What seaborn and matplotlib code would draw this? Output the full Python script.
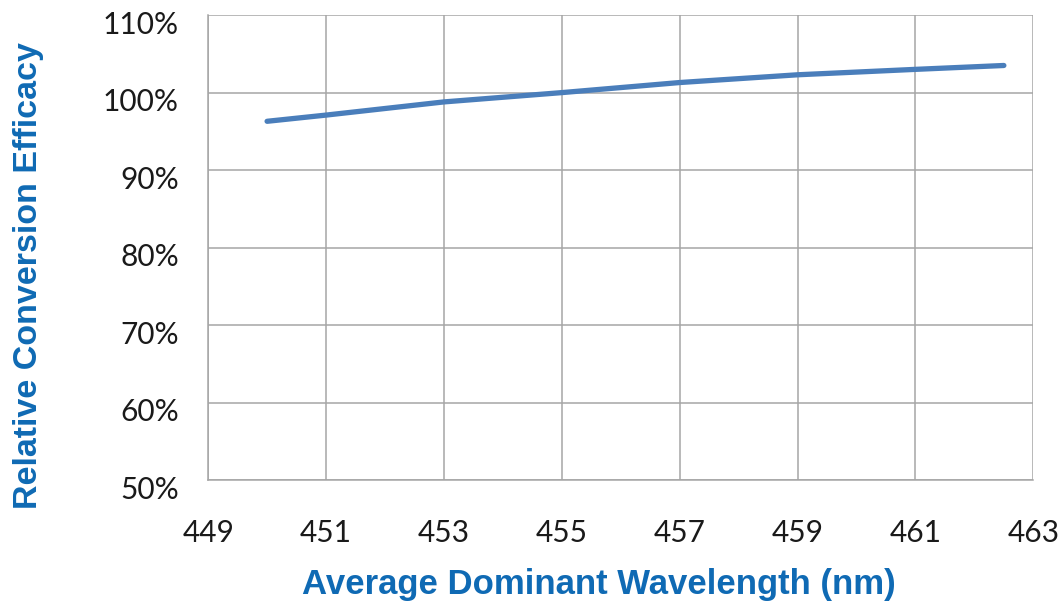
import numpy as np
import pandas as pd
import matplotlib
matplotlib.use("Agg")
import matplotlib.pyplot as plt
import matplotlib.transforms as mtransforms
import seaborn as sns
from matplotlib.ticker import FuncFormatter

# ── data ──────────────────────────────────────────────────────────────────────
wavelength = [450.0, 451.0, 453.0, 455.0, 457.0, 459.0, 461.0, 462.5]
efficacy   = [96.3, 97.1, 98.8, 100.0, 101.3, 102.3, 103.0, 103.5]

x_ticks = [449, 451, 453, 455, 457, 459, 461, 463]
y_ticks = [50, 60, 70, 80, 90, 100, 110]

df = pd.DataFrame({"wavelength": wavelength, "efficacy": efficacy})

sns.set_theme(style="white")
plt.rcParams["font.family"] = ["Lato", "DejaVu Sans"]

LINE_BLUE  = "#4a7ebb"
LABEL_BLUE = "#0f6ab4"
GRID_GRAY  = "#a6a6a6"

fig = plt.figure(figsize=(10.62, 6.04), dpi=100)
ax = fig.add_axes([0.196, 0.205, 0.777, 0.770])

sns.lineplot(data=df, x="wavelength", y="efficacy", ax=ax,
             color=LINE_BLUE, lw=3.8, solid_capstyle="round")

ax.set_xlim(449, 463)
ax.set_ylim(50, 110)
ax.set_xticks(x_ticks)
ax.set_yticks(y_ticks)
ax.yaxis.set_major_formatter(FuncFormatter(lambda v, _: f"{v:.0f}%"))

ax.grid(True, color=GRID_GRAY, lw=1.1)
for side in ["top", "right"]:
    ax.spines[side].set_visible(False)
for side in ["left", "bottom"]:
    ax.spines[side].set_color(GRID_GRAY)
    ax.spines[side].set_linewidth(1.1)

ax.tick_params(axis="both", length=0, labelsize=21.5, labelcolor="#1a1a1a")
ax.tick_params(axis="x", pad=28)
ax.tick_params(axis="y", pad=21)

# y tick labels sit a little below their gridlines in the reference
shift_down = mtransforms.ScaledTranslation(0, -7 / 100, fig.dpi_scale_trans)
for lbl in ax.get_yticklabels():
    lbl.set_transform(lbl.get_transform() + shift_down)

ax.set_xlabel("Average Dominant Wavelength (nm)", fontsize=25, fontweight="bold",
              color=LABEL_BLUE, family="Liberation Sans")
ax.set_ylabel("Relative Conversion Efficacy", fontsize=24.5, fontweight="bold",
              color=LABEL_BLUE, family="Liberation Sans")
ax.xaxis.label.set_va("center")
ax.yaxis.label.set_va("center")
ax.xaxis.set_label_coords(0.473, -0.224)
ax.yaxis.set_label_coords(-0.218, 0.441)

fig.savefig("out.png", dpi=100, facecolor="white")
